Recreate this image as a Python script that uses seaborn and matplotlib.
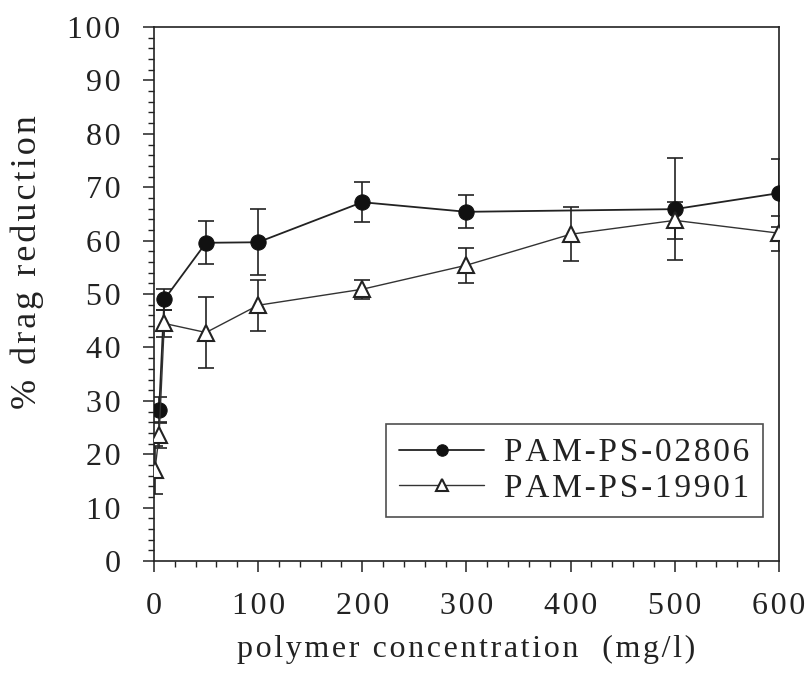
import matplotlib
matplotlib.use("Agg")
import matplotlib.pyplot as plt
import seaborn as sns
import pandas as pd
from matplotlib.ticker import MultipleLocator

# Data
x_02806 = [5, 10, 50, 100, 200, 300, 500, 600]
y_02806 = [28.3, 49.0, 59.6, 59.7, 67.2, 65.4, 65.9, 68.9]
e_02806 = [2.5, 2.0, 4.0, 6.2, 3.8, 3.1, 9.5, 6.4]

x_19901 = [1, 5, 10, 50, 100, 200, 300, 400, 500, 600]
y_19901 = [17.0, 23.6, 44.5, 42.8, 47.9, 50.9, 55.4, 61.2, 63.8, 61.4]
e_19901 = [4.5, 2.5, 2.6, 6.7, 4.8, 1.8, 3.3, 5.1, 3.5, 3.3]

labels = ["PAM-PS-02806", "PAM-PS-19901"]
x_ticks = [0, 100, 200, 300, 400, 500, 600]
y_ticks = [0, 10, 20, 30, 40, 50, 60, 70, 80, 90, 100]

HS = "\u200a"


def spaced(s, n=1):
    return (HS * n).join(list(s))


sns.set_theme(style="white")
FAM = ['Liberation Serif', 'DejaVu Serif']
plt.rcParams['font.family'] = FAM

fig = plt.figure(figsize=(8.1, 6.76), dpi=100)
ax = fig.add_axes([0.190, 0.170, 0.7717, 0.790])

df1 = pd.DataFrame({"x": x_02806, "y": y_02806})
df2 = pd.DataFrame({"x": x_19901, "y": y_19901})

ax.errorbar(x_02806, y_02806, yerr=e_02806, fmt='none', ecolor='#222222',
            elinewidth=1.2, capsize=6, capthick=1.2, zorder=2)
ax.errorbar(x_19901, y_19901, yerr=e_19901, fmt='none', ecolor='#222222',
            elinewidth=1.2, capsize=6, capthick=1.2, zorder=2)

sns.lineplot(data=df1, x="x", y="y", ax=ax, color='#222222', linewidth=1.3,
             marker='o', markersize=11, markerfacecolor='#111111',
             markeredgecolor='#111111', label=spaced(labels[0]), zorder=3)
sns.lineplot(data=df2, x="x", y="y", ax=ax, color='#333333', linewidth=1.0,
             marker='^', markersize=11, markerfacecolor='white',
             markeredgecolor='#222222', markeredgewidth=1.5,
             label=spaced(labels[1]), zorder=4)

ax.set_xlim(0, 600)
ax.set_ylim(0, 100)
ax.set_xticks(x_ticks)
ax.set_yticks(y_ticks)
ax.set_xticklabels([spaced(str(v)) for v in x_ticks])
ax.set_yticklabels([spaced(str(v)) for v in y_ticks])
ax.xaxis.set_minor_locator(MultipleLocator(20))
ax.yaxis.set_minor_locator(MultipleLocator(2))

ax.tick_params(axis='both', which='major', direction='out', length=8, width=1.1,
               color='#222222', labelsize=23, labelcolor='#222222',
               bottom=True, left=True, top=False, right=False)
ax.tick_params(axis='x', which='major', pad=14)
ax.tick_params(axis='y', which='major', pad=16)
ax.tick_params(axis='both', which='minor', direction='out', length=4, width=1.0,
               color='#222222', bottom=True, left=True, top=False, right=False)

for s in ax.spines.values():
    s.set_color('#222222')
    s.set_linewidth(1.2)

ax.set_xlabel(spaced("polymer concentration  (mg/l)"), fontsize=23,
              color='#222222', labelpad=10)
ax.set_ylabel(spaced("% drag reduction", 1), fontsize=26, color='#222222')
ax.yaxis.set_label_coords(-0.176, 0.56)

leg = ax.legend(loc='lower right', bbox_to_anchor=(0.9744, 0.0824), fontsize=24,
                frameon=True, fancybox=False, edgecolor='#222222',
                handlelength=2.55, handletextpad=0.6, borderpad=0.4,
                labelspacing=0.15, markerscale=0.75, borderaxespad=0.0)
leg.get_frame().set_linewidth(1.2)
for t in leg.get_texts():
    t.set_color('#222222')

fig.savefig("out.png", dpi=100)
